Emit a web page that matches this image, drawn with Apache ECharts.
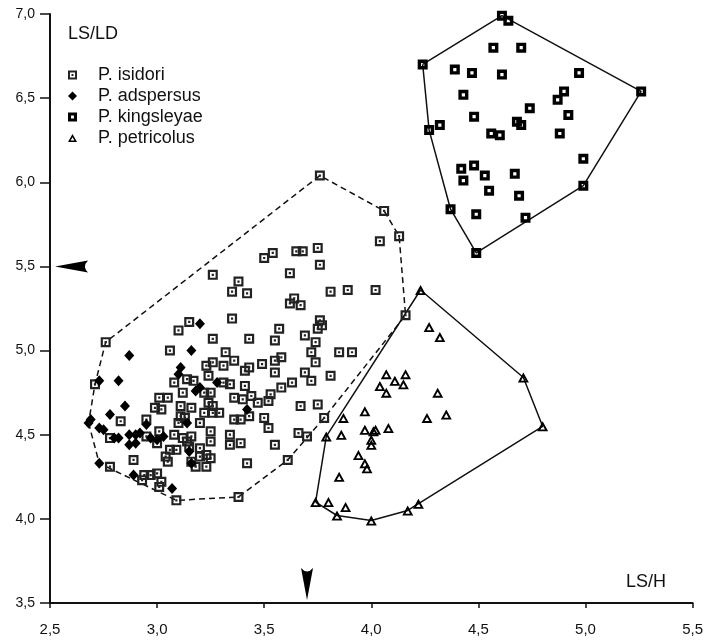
<!DOCTYPE html>
<html>
<head>
<meta charset="utf-8">
<script src="https://cdn.jsdelivr.net/npm/echarts@6/dist/echarts.min.js"></script>
<style>
html,body{margin:0;padding:0;background:#fff;}
#chart{width:706px;height:640px;}
</style>
</head>
<body>
<div id="chart"></div>
<script>
// ---- data ----
const xTickLabels = ['2,5','3,0','3,5','4,0','4,5','5,0','5,5'];
const yTickLabels = ['3,5','4,0','4,5','5,0','5,5','6,0','6,5','7,0'];
const xAxisName = 'LS/H';
const yAxisName = 'LS/LD';
const speciesNames = ['P. isidori','P. adspersus','P. kingsleyae','P. petricolus'];
const arrowX = 3.7;
const arrowY = 5.5;

const isidori = [
[3.26,5.45],[3.38,5.41],[3.35,5.35],[3.15,5.17],[3.10,5.12],[3.26,5.07],[3.35,5.19],[2.76,5.05],[3.06,5.00],[3.32,4.99],
[3.26,4.93],[3.36,4.94],[3.23,4.91],[3.31,4.91],[3.24,4.85],[3.08,4.81],[3.14,4.83],[3.17,4.82],[3.31,4.81],[3.34,4.80],
[2.71,4.80],[3.12,4.75],[3.22,4.75],[3.25,4.75],[3.01,4.72],[3.05,4.72],[3.36,4.72],[2.99,4.66],[3.02,4.65],[3.11,4.67],
[3.16,4.66],[3.24,4.69],[3.26,4.67],[3.22,4.63],[3.26,4.63],[3.29,4.63],[3.11,4.61],[3.13,4.60],[3.36,4.59],[3.39,4.59],
[2.95,4.59],[2.83,4.58],[3.10,4.57],[3.20,4.57],[3.25,4.52],[3.01,4.52],[2.78,4.48],[2.95,4.49],[3.08,4.50],[3.12,4.48],
[3.16,4.49],[3.34,4.50],[3.00,4.45],[3.14,4.46],[3.15,4.43],[3.25,4.46],[3.34,4.44],[3.06,4.41],[3.09,4.41],[3.20,4.42],
[3.23,4.38],[3.20,4.37],[3.25,4.36],[3.04,4.37],[3.05,4.34],[2.89,4.35],[3.16,4.34],[3.18,4.31],[3.23,4.31],[2.78,4.31],
[2.94,4.26],[2.97,4.26],[3.00,4.27],[2.93,4.23],[3.02,4.22],[3.01,4.19],[3.09,4.11],[3.38,4.13],
[3.76,6.04],[4.06,5.83],[4.13,5.68],[4.04,5.65],[3.50,5.55],[3.54,5.58],[3.65,5.59],[3.68,5.59],[3.75,5.61],[3.76,5.51],
[3.62,5.46],[3.42,5.34],[3.81,5.35],[3.89,5.36],[4.02,5.36],[3.64,5.31],[3.62,5.28],[3.67,5.27],[3.76,5.18],[3.77,5.15],
[3.75,5.13],[3.57,5.13],[3.43,5.07],[3.55,5.06],[3.69,5.09],[3.74,5.05],[3.43,4.90],[3.49,4.92],[3.55,4.94],[3.58,4.96],
[3.72,4.99],[3.74,4.93],[3.85,4.99],[3.91,4.99],[3.41,4.88],[3.55,4.87],[3.69,4.87],[3.72,4.82],[3.81,4.85],[3.63,4.81],
[3.58,4.78],[3.53,4.74],[3.52,4.70],[3.41,4.79],[3.40,4.71],[3.44,4.73],[3.47,4.69],[3.67,4.67],[3.75,4.68],[3.78,4.60],
[3.43,4.61],[3.50,4.60],[3.52,4.54],[3.66,4.51],[3.70,4.49],[3.39,4.45],[3.55,4.44],[3.61,4.35],[3.42,4.33],[4.16,5.21]
];

const adspersus = [
[3.20,5.16],[3.16,5.00],[2.87,4.97],[2.73,4.82],[2.82,4.82],[3.11,4.90],[3.10,4.86],[3.18,4.76],[3.20,4.78],[3.28,4.81],
[2.85,4.67],[2.78,4.62],[2.69,4.59],[2.68,4.57],[2.73,4.54],[2.75,4.53],[2.95,4.56],[2.80,4.48],[2.82,4.48],[2.87,4.50],
[2.90,4.50],[2.92,4.51],[2.87,4.44],[2.90,4.45],[2.97,4.48],[3.00,4.47],[3.03,4.49],[3.14,4.57],[3.15,4.40],[3.16,4.33],
[2.73,4.33],[2.89,4.26],[3.07,4.18],[3.42,4.65]
];

const kingsleyae = [
[4.61,6.99],[4.64,6.96],[4.57,6.80],[4.70,6.80],[4.24,6.70],[4.39,6.67],[4.47,6.65],[4.61,6.64],[4.97,6.65],[5.26,6.54],
[4.90,6.54],[4.87,6.49],[4.43,6.52],[4.74,6.44],[4.92,6.40],[4.48,6.39],[4.32,6.34],[4.27,6.31],[4.68,6.36],[4.70,6.34],
[4.56,6.29],[4.60,6.28],[4.88,6.29],[4.99,6.14],[4.42,6.08],[4.48,6.10],[4.53,6.04],[4.67,6.05],[4.43,6.01],[4.99,5.98],
[4.55,5.95],[4.69,5.92],[4.37,5.84],[4.49,5.81],[4.72,5.79],[4.49,5.58]
];

const petricolus = [
[4.23,5.36],[4.27,5.14],[4.32,5.08],[4.07,4.86],[4.16,4.86],[4.11,4.82],[4.15,4.80],[4.04,4.79],[4.07,4.75],[4.31,4.75],
[4.71,4.84],[4.80,4.55],[3.97,4.64],[3.87,4.60],[4.26,4.60],[4.35,4.62],[3.79,4.49],[3.86,4.50],[3.97,4.53],[4.02,4.53],
[4.01,4.52],[4.08,4.54],[4.00,4.47],[4.00,4.44],[3.94,4.38],[3.97,4.33],[3.98,4.30],[3.85,4.25],[3.74,4.10],[3.80,4.10],
[3.88,4.07],[3.84,4.02],[4.00,3.99],[4.17,4.05],[4.22,4.09]
];

// ---- helpers ----
function hull(pts){
  const p = pts.slice().sort((a,b)=>a[0]-b[0]||a[1]-b[1]);
  const cross=(o,a,b)=>(a[0]-o[0])*(b[1]-o[1])-(a[1]-o[1])*(b[0]-o[0]);
  const lower=[];
  for(const q of p){while(lower.length>=2&&cross(lower[lower.length-2],lower[lower.length-1],q)<=0)lower.pop();lower.push(q);}
  const upper=[];
  for(let i=p.length-1;i>=0;i--){const q=p[i];while(upper.length>=2&&cross(upper[upper.length-2],upper[upper.length-1],q)<=0)upper.pop();upper.push(q);}
  upper.pop();lower.pop();
  const h=lower.concat(upper);h.push(h[0]);return h;
}

const symIsidori = 'path://M0,0H10V10H0Z M2.2,2.2V7.8H7.8V2.2Z M3.9,3.9H6.1V6.1H3.9Z';
const symKings = 'path://M0,0H10V10H0Z M3.4,3.4V6.6H6.6V3.4Z';
const symTri = 'path://M5,0L10,9L0,9Z M5,3.6L2.9,7.4L7.1,7.4Z';
const symDown = 'path://M0,0Q6,7 12,0L6,32Z';
const symLeft = 'path://M33,0Q27,6 33,12L0,6Z';

const FONT = 'Liberation Sans, Arial, Helvetica, sans-serif';
const chart = echarts.init(document.getElementById('chart'), null, {renderer:'canvas'});

const hullLine = (name, data, type) => ({
  name, type:'line', data, symbol:'none', silent:true, z:1,
  lineStyle:{color:'#111', width:1.5, type},
  animation:false
});

chart.setOption({
  backgroundColor:'#fff',
  animation:false,
  grid:{left:50, right:13, top:14, bottom:37},
  xAxis:{
    type:'value', min:2.5, max:5.5, interval:0.5,
    axisLine:{show:true, onZero:false, lineStyle:{color:'#111', width:2}},
    axisTick:{show:true, length:5, lineStyle:{color:'#111', width:1.5}},
    axisLabel:{margin:19, fontSize:15, color:'#111', fontFamily:FONT,
      formatter:(v)=>xTickLabels[Math.round((v-2.5)/0.5)]},
    splitLine:{show:false}
  },
  yAxis:{
    type:'value', min:3.5, max:7, interval:0.5,
    axisLine:{show:true, onZero:false, lineStyle:{color:'#111', width:2}},
    axisTick:{show:true, length:10, lineStyle:{color:'#111', width:1.5}},
    axisLabel:{margin:15, fontSize:14, color:'#111', fontFamily:FONT,
      formatter:(v)=>yTickLabels[Math.round((v-3.5)/0.5)]},
    splitLine:{show:false}
  },
  legend:{
    orient:'vertical', left:63, top:60,
    itemWidth:9, itemHeight:9, itemGap:1,
    data:speciesNames,
    textStyle:{fontSize:18, fontFamily:FONT, color:'#111', lineHeight:20, padding:[0,0,0,16]},
    selectedMode:false
  },
  graphic:[
    {type:'text', left:68, top:25, style:{text:yAxisName, font:'18px '+FONT, fill:'#111'}},
    {type:'text', left:626, top:573, style:{text:xAxisName, font:'18px '+FONT, fill:'#111'}}
  ],
  series:[
    hullLine('hullA', hull(isidori.concat(adspersus)), [6,4]),
    hullLine('hullK', hull(kingsleyae), 'solid'),
    hullLine('hullP', hull(petricolus), 'solid'),
    {name:speciesNames[0], type:'scatter', data:isidori, symbol:symIsidori, symbolSize:10, z:3,
      itemStyle:{color:'#222', opacity:1}},
    {name:speciesNames[1], type:'scatter', data:adspersus, symbol:'diamond', symbolSize:[10,11], z:4,
      itemStyle:{color:'#000', opacity:1}},
    {name:speciesNames[2], type:'scatter', data:kingsleyae, symbol:symKings, symbolSize:10, z:3,
      itemStyle:{color:'#000', opacity:1}},
    {name:speciesNames[3], type:'scatter', data:petricolus, symbol:symTri, symbolSize:[11,10], z:3,
      itemStyle:{color:'#000', opacity:1}},
    {name:'arrowDown', type:'scatter', data:[[arrowX, 3.5]], symbol:symDown, symbolSize:[12,32],
      symbolOffset:[0,-19], silent:true, z:5, itemStyle:{color:'#000', opacity:1}},
    {name:'arrowLeft', type:'scatter', data:[[2.5, arrowY]], symbol:symLeft, symbolSize:[33,12],
      symbolOffset:[21.5,0], silent:true, z:5, itemStyle:{color:'#000', opacity:1}}
  ]
});
</script>
</body>
</html>
